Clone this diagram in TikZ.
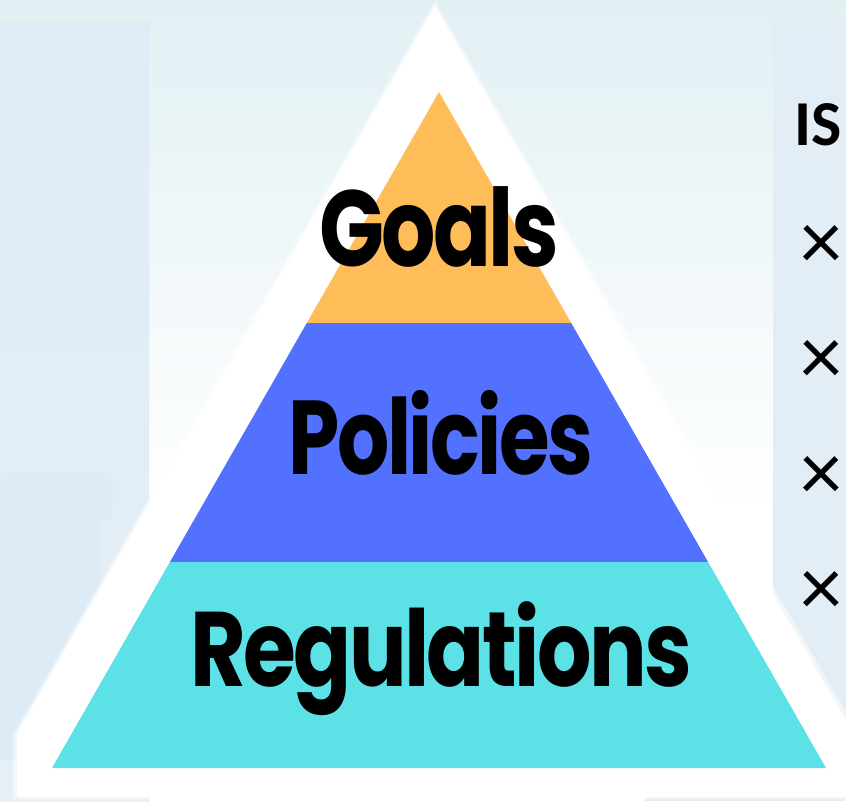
\documentclass[tikz,border=0pt]{standalone}
\usepackage{fontspec}
\usepackage{graphicx}
\newfontfamily\pop{Poppins}[LetterSpace=-3]
\newfontfamily\carl{Carlito}
\definecolor{bgtop}{RGB}{226,240,244}
\definecolor{panelL}{RGB}{223,235,245}
\definecolor{panelLb}{RGB}{229,239,248}
\definecolor{panelR}{RGB}{226,237,246}
\definecolor{ghost}{RGB}{221,235,246}
\definecolor{goalc}{RGB}{255,189,89}
\definecolor{polc}{RGB}{82,113,255}
\definecolor{regc}{RGB}{92,225,230}
\newsavebox\fitbox
\newcommand{\fitx}[2]{\sbox\fitbox{#2}\scalebox{\fpeval{#1/(\the\wd\fitbox)}}[1]{\usebox\fitbox}}
\tikzset{
  band/.style={draw=none},
  lbl/.style={inner sep=0pt, anchor=base, text=black},
  side/.style={inner sep=0pt, text=black}
}
\begin{document}
\begin{tikzpicture}[x=1pt,y=-1pt]
\useasboundingbox (0,0) rectangle (846,801);
% background
\fill[white] (0,0) rectangle (846,801);
\shade[top color=bgtop, bottom color=white] (0,0) rectangle (846,520);
\shade[top color=panelL, bottom color=panelLb] (0,21) rectangle (149,801);
\fill[ghost, rounded corners=6pt] (0,473) rectangle (113,520);
\fill[ghost] (0,510) rectangle (100,760);
\fill[panelR] (773,21) rectangle (846,801);
\fill[panelR] (645,797) rectangle (846,801);
% white outer triangle with soft edge
\fill[white, opacity=0.5] (435,1) -- (896,799) -- (13,799) -- (13,735) -- cycle;
\fill[white] (435,6) -- (890,797) -- (17,797) -- (17,733) -- cycle;
% bands
\fill[goalc, band] (439,92) -- (571.2,323) -- (306.8,323) -- cycle;
\fill[polc, band] (306.8,323) -- (571.2,323) -- (708.1,562) -- (169.9,562) -- cycle;
\fill[regc, band] (169.9,562) -- (708.1,562) -- (826,768) -- (52,768) -- cycle;
% labels
\node[lbl, font=\pop\bfseries\fontsize{108}{108}\selectfont] (goals) at (439,266) {\fitx{240}{Goals}};
\node[lbl, font=\pop\bfseries\fontsize{105}{105}\selectfont] (policies) at (441,474) {\fitx{305}{Policies}};
\node[lbl, font=\pop\bfseries\fontsize{106}{106}\selectfont] (regs) at (441,686) {\fitx{502}{Regulations}};
% side column
\node[side, anchor=base west, font=\carl\bfseries\fontsize{64}{64}\selectfont] (is) at (794,145) {IS};
\foreach \i/\yy in {1/247,2/362,3/478,4/593}{
  \node[side, font=\carl\fontsize{84}{84}\selectfont] (x\i) at (821,\yy) {×};
}
\end{tikzpicture}
\end{document}
